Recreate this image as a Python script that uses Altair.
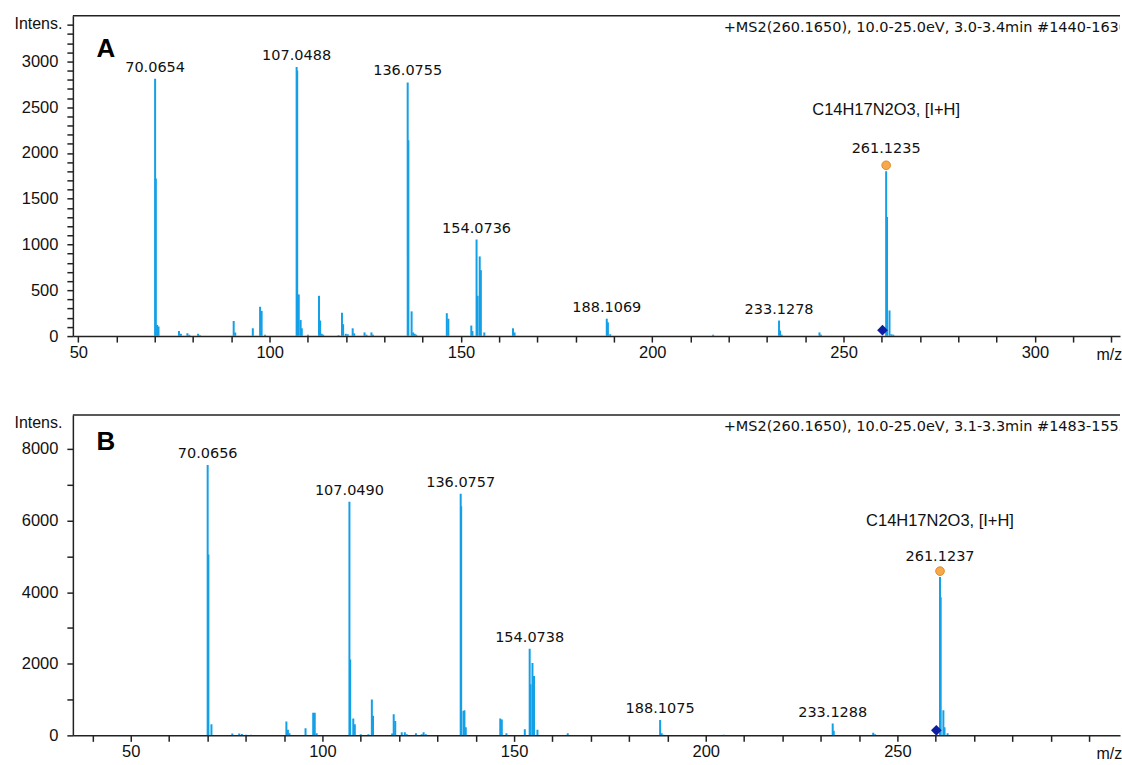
import altair as alt
import pandas as pd

# ---------------- data ----------------
a_mz = [70.0654, 70.25, 70.6, 70.95, 76.3, 76.8, 78.5, 79.0, 81.3, 81.8, 90.6, 91.0, 95.6,
        97.5, 97.9, 98.8, 107.0488, 107.2, 107.6, 108.1, 108.4, 110.0, 112.9, 113.2, 113.6,
        114.0, 118.0, 118.9, 119.2, 119.9, 120.4, 121.7, 122.1, 124.8, 125.3, 126.6, 127.0,
        136.0755, 136.25, 137.1, 137.5, 137.9, 138.3, 146.3, 146.7, 152.7, 153.0, 154.0736,
        154.35, 154.9, 155.2, 156.1, 163.6, 164.0, 188.1069, 188.4, 189.0, 215.9, 233.1278,
        233.4, 233.8, 243.7, 244.1, 261.1235, 261.35, 262.0, 262.5, 263.0]
a_int = [2810, 1720, 120, 105, 55, 25, 30, 15, 25, 10, 165, 40, 85,
         320, 275, 15, 2940, 2900, 455, 175, 85, 15, 440, 170, 25,
         15, 10, 255, 130, 25, 20, 85, 30, 40, 15, 40, 15,
         2770, 2140, 270, 40, 25, 15, 250, 190, 115, 55, 1055,
         440, 870, 720, 40, 85, 40, 190, 150, 20, 15, 170,
         60, 15, 40, 15, 1800, 1300, 280, 20, 15]

b_mz = [70.0656, 70.25, 71.05, 76.5, 78.3, 79.0, 80.1, 81.4, 90.6, 91.0, 91.4, 95.6, 97.6,
        98.0, 98.5, 107.0490, 107.25, 108.05, 108.45, 110.0, 112.0, 112.9, 113.2, 118.2,
        118.6, 119.0, 120.7, 121.5, 122.0, 124.4, 125.9, 126.4, 127.0, 136.0757, 136.2,
        136.8, 137.05, 137.4, 146.4, 146.8, 148.0, 152.8, 154.0738, 154.3, 154.8, 155.2,
        156.1, 164.0, 188.1075, 188.5, 189.0, 204.7, 233.1288, 233.4, 243.7, 244.2,
        261.1237, 261.3, 262.0, 262.3, 263.1]
b_int = [7555, 5050, 310, 50, 50, 40, 20, 20, 390, 160, 60, 200, 630,
         630, 60, 6524, 2120, 470, 310, 30, 30, 1000, 550, 50,
         590, 400, 90, 90, 30, 60, 30, 90, 30, 6747, 6400,
         680, 700, 230, 470, 440, 60, 170, 2420, 1430, 2020, 1660,
         160, 60, 430, 60, 20, 20, 330, 130, 70, 30,
         4420, 3860, 700, 230, 60]

a_lab_mz = [70.0654, 107.0488, 136.0755, 154.0736, 188.1069, 233.1278]
a_lab_int = [2810, 2940, 2770, 1055, 190, 170]
a_lab_txt = ["70.0654", "107.0488", "136.0755", "154.0736", "188.1069", "233.1278"]

b_lab_mz = [70.0656, 107.0490, 136.0757, 154.0738, 188.1075, 233.1288]
b_lab_int = [7555, 6524, 6747, 2420, 430, 330]
b_lab_txt = ["70.0656", "107.0490", "136.0757", "154.0738", "188.1075", "233.1288"]

a_main = [261.1235, 1800, "261.1235"]
b_main = [261.1237, 4420, "261.1237"]
formula = "C14H17N2O3, [I+H]"

precursor_mz = 260.1650
a_prec_int = 65
b_prec_int = 140

a_header = "+MS2(260.1650), 10.0-25.0eV, 3.0-3.4min #1440-1630"
b_header = "+MS2(260.1650), 10.0-25.0eV, 3.1-3.3min #1483-1553"

# ---------------- styling ----------------
BLUE = "#14a0e6"
DARK = "#222222"
TXT = "#111111"
W = 1049
H = 321


def panel(mz, inten, lab_mz, lab_int, lab_txt, main, prec_int, xdom, ymax,
          xvals, xlab_max, yvals, ystep, letter, letter_y, header,
          main_dy, form_dy):
    xs = alt.Scale(domain=xdom, nice=False, zero=False)
    ys = alt.Scale(domain=[0, ymax], nice=False, zero=True)
    xaxis = alt.Axis(
        values=xvals,
        labelExpr=f"(datum.value % 50 === 0 && datum.value <= {xlab_max}) ? datum.label : ''",
        format="d", grid=False, tickSize=6, tickWidth=1.5, tickColor=DARK,
        domainColor=DARK, domainWidth=1.5, labelFont="Liberation Sans",
        labelFontSize=16.5, labelColor=TXT, labelPadding=2, labelOverlap=False,
        labelFlush=False, labelBound=False,
        title="m/z", titleAngle=0, titleX=1025, titleY=18, titleAlign="left",
        titleBaseline="middle", titleFont="Liberation Sans", titleFontSize=16,
        titleFontWeight="normal", titleColor=TXT)
    yaxis = alt.Axis(
        values=yvals,
        labelExpr=f"datum.value % {ystep} === 0 ? datum.label : ''",
        format="d", grid=False, tickSize=6, tickWidth=1.5, tickColor=DARK,
        domainColor=DARK, domainWidth=1.5, labelFont="Liberation Sans",
        labelFontSize=16.5, labelColor=TXT, labelPadding=9, labelOverlap=False,
        labelFlush=False, labelBound=False,
        title="Intens.", titleAngle=0, titleX=-11, titleY=8, titleAlign="right",
        titleBaseline="middle", titleFont="Liberation Sans", titleFontSize=16,
        titleFontWeight="normal", titleColor=TXT)

    X = alt.X("mz:Q", scale=xs, axis=xaxis)
    Y = alt.Y("i:Q", scale=ys, axis=yaxis)

    df = pd.DataFrame({"mz": mz, "i": inten, "z": [0] * len(mz)})
    bars = alt.Chart(df).mark_rule(color=BLUE, strokeWidth=2, clip=True).encode(
        x=X, y=Y, y2="z:Q",
    )

    ldf = pd.DataFrame({"mz": lab_mz, "i": lab_int, "t": lab_txt})
    labels = alt.Chart(ldf).mark_text(
        font="DejaVu Sans", fontSize=14.5, color=TXT, dy=-11, baseline="middle"
    ).encode(x=X, y=Y, text="t:N")

    mdf = pd.DataFrame({"mz": [main[0]], "i": [main[1]], "t": [main[2]], "f": [formula]})
    dot = alt.Chart(mdf).mark_circle(
        size=75, color="#f6a84a", stroke="#de8a2c", strokeWidth=1, opacity=1, yOffset=-6
    ).encode(x=X, y=Y)
    mlabel = alt.Chart(mdf).mark_text(
        font="DejaVu Sans", fontSize=14.5, color=TXT, dy=main_dy, baseline="middle"
    ).encode(x=X, y=Y, text="t:N")
    flabel = alt.Chart(mdf).mark_text(
        font="Liberation Sans", fontSize=16.5, color=TXT, dy=form_dy, baseline="middle"
    ).encode(x=X, y=Y, text="f:N")

    pdf = pd.DataFrame({"mz": [precursor_mz], "i": [prec_int]})
    prec = alt.Chart(pdf).mark_point(
        shape="diamond", filled=True, size=115, color="#0d1fa0", opacity=1
    ).encode(x=X, y=Y)

    top = alt.Chart(pd.DataFrame({"k": [0]})).mark_rule(
        color=DARK, strokeWidth=1.5
    ).encode(x=alt.value(0), x2=alt.value(W), y=alt.value(0))

    let = alt.Chart(pd.DataFrame({"t": [letter]})).mark_text(
        font="Liberation Sans", fontSize=26, fontWeight="bold", color="#000000",
        align="center", baseline="middle"
    ).encode(x=alt.value(33), y=alt.value(letter_y), text="t:N")

    head = alt.Chart(pd.DataFrame({"t": [header]})).mark_text(
        font="DejaVu Sans", fontSize=14.5, color=TXT, align="left", baseline="middle",
        clip=True
    ).encode(x=alt.value(652), y=alt.value(12), text="t:N")

    return alt.layer(bars, labels, dot, mlabel, flabel, prec, top, let, head).properties(
        width=W, height=H
    )


pa = panel(a_mz, a_int, a_lab_mz, a_lab_int, a_lab_txt, a_main, a_prec_int,
           [48.57, 322.24], 3500, list(range(50, 330, 10)), 300,
           list(range(0, 3500, 100)), 500, "A", 33, a_header, -22, -61)
pb = panel(b_mz, b_int, b_lab_mz, b_lab_int, b_lab_txt, b_main, b_prec_int,
           [34.9, 308.08], 8950, list(range(40, 310, 10)), 250,
           list(range(0, 9000, 1000)), 2000, "B", 27, b_header, -20, -56)

chart = alt.vconcat(pa, pb, spacing=79, bounds="flush").properties(
    padding={"left": 13, "top": 14, "right": 0, "bottom": 0},
    background="white",
).configure_view(stroke=None)

chart.save("out.html", embed_options={"renderer": "svg", "actions": False})
